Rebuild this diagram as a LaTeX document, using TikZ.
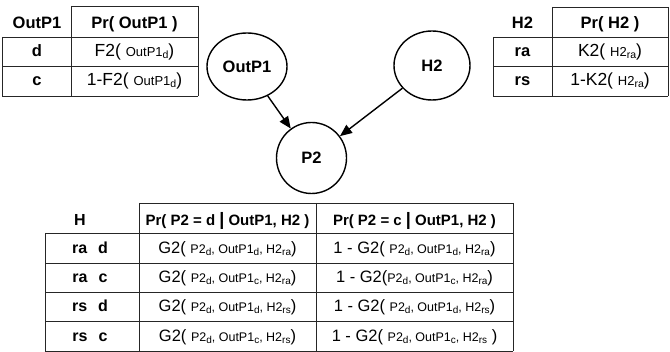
\documentclass[tikz,border=0pt]{standalone}
\usepackage{fontspec}
\setmainfont{Liberation Sans}
\usetikzlibrary{arrows.meta,shapes.geometric}

\newcommand{\hdrf}{\fontsize{15}{15}\selectfont\bfseries}
\newcommand{\bighdrf}{\fontsize{16.5}{16.5}\selectfont\bfseries}
\newcommand{\rowf}{\fontsize{16}{16}\selectfont\bfseries}
\newcommand{\fnmf}{\fontsize{16.5}{16.5}\selectfont}
\newcommand{\topfnf}{\fontsize{17.5}{17.5}\selectfont}
\newcommand{\argv}[2]{{\fontsize{12.5}{12.5}\selectfont #1\raisebox{-1.5pt}{\fontsize{10}{10}\selectfont #2}}}
\newcommand{\targv}[2]{{\fontsize{13}{13}\selectfont #1\raisebox{-1.5pt}{\fontsize{10.5}{10.5}\selectfont #2}}}
\newcommand{\sbar}{{\fontsize{18}{18}\selectfont\bfseries |}}

\begin{document}
\begin{tikzpicture}[x=1pt,y=-1pt,
  tline/.style={line width=0.9pt, draw=black!85},
  txt/.style={inner sep=0pt, anchor=base},
  hd/.style={txt, font=\hdrf},
  thd/.style={txt, font=\bighdrf},
  rowl/.style={txt, font=\rowf},
  cell/.style={txt, font=\fnmf},
  tcell/.style={txt, font=\topfnf},
  bnode/.style={ellipse, draw, line width=1.4pt, inner sep=0pt, font=\bighdrf},
  arr/.style={line width=1.4pt, -{Triangle[length=12pt,width=10pt]}}]
\useasboundingbox (0,0) rectangle (670,352);

% ---------- Table 1 ----------
\draw[tline] (71,6) -- (198,6);
\draw[tline] (2,37) -- (198,37);
\draw[tline] (2,66) -- (198,66);
\draw[tline] (2,96) -- (198,96);
\draw[tline] (71,6) -- (71,96);
\draw[tline] (198,6) -- (198,96);
\draw[tline] (2,37) -- (2,96);
\node[thd] (t1h1) at (37,29) {OutP1};
\node[thd] (t1h2) at (134.5,29) {Pr( OutP1 )};
\node[thd] (t1r1) at (37,57) {d};
\node[thd] (t1r2) at (37,86) {c};
\node[tcell] (t1v1) at (134.5,57) {F2( \targv{OutP1}{d})};
\node[tcell] (t1v2) at (134.5,86) {1-F2( \targv{OutP1}{d})};

% ---------- Table 2 ----------
\draw[tline] (552,7) -- (668,7);
\draw[tline] (493,37) -- (668,37);
\draw[tline] (493,66) -- (668,66);
\draw[tline] (493,96) -- (668,96);
\draw[tline] (552,7) -- (552,96);
\draw[tline] (668,7) -- (668,96);
\draw[tline] (493,37) -- (493,96);
\node[thd] (t2h1) at (522.5,29) {H2};
\node[thd] (t2h2) at (610,29) {Pr( H2 )};
\node[thd] (t2r1) at (522.5,57) {ra};
\node[thd] (t2r2) at (522.5,86) {rs};
\node[tcell] (t2v1) at (610,57) {K2( \targv{H2}{ra})};
\node[tcell] (t2v2) at (610,86) {1-K2( \targv{H2}{ra})};

% ---------- Graph ----------
\node[bnode, minimum width=80pt, minimum height=67pt] (outp1) at (247,66.5) {OutP1};
\node[bnode, minimum width=76pt, minimum height=69pt] (h2) at (432,65.5) {H2};
\node[bnode, minimum width=70pt, minimum height=71pt] (p2) at (311.5,158) {P2};
\draw[arr] (outp1) -- (p2);
\draw[arr] (h2) -- (p2);

% ---------- Table 3 ----------
\draw[tline] (139,203) -- (513,203);
\draw[tline] (45,233) -- (513,233);
\draw[tline] (45,263) -- (513,263);
\draw[tline] (45,292) -- (513,292);
\draw[tline] (45,321) -- (513,321);
\draw[tline] (45,351) -- (513,351);
\draw[tline] (139,203) -- (139,351);
\draw[tline] (316,203) -- (316,351);
\draw[tline] (513,203) -- (513,351);
\draw[tline] (45,233) -- (45,351);
\node[rowl] (t3h1) at (80,226) {H};
\node[hd] (t3h2) at (227.5,226) {Pr( P2 = d \sbar\ OutP1, H2 )};
\node[hd] (t3h3) at (414.5,226) {Pr( P2 = c \sbar\ OutP1, H2 )};
\node[rowl] (t3r1) at (90,254) {ra\hspace{11pt}d};
\node[rowl] (t3r2) at (90,283) {ra\hspace{11pt}c};
\node[rowl] (t3r3) at (90,312) {rs\hspace{11pt}d};
\node[rowl] (t3r4) at (90,342) {rs\hspace{11pt}c};
\node[cell] (g1) at (227.5,254) {G2( \argv{P2}{d}\argv{, OutP1}{d}\argv{, H2}{ra})};
\node[cell] (g2) at (227.5,283) {G2( \argv{P2}{d}\argv{, OutP1}{c}\argv{, H2}{ra})};
\node[cell] (g3) at (227.5,312) {G2( \argv{P2}{d}\argv{, OutP1}{d}\argv{, H2}{rs})};
\node[cell] (g4) at (227.5,342) {G2( \argv{P2}{d}\argv{, OutP1}{c}\argv{, H2}{rs})};
\node[cell] (c1) at (414.5,254) {1 - G2( \argv{P2}{d}\argv{, OutP1}{d}\argv{, H2}{ra})};
\node[cell] (c2) at (414.5,283) {1 - G2(\argv{P2}{d}\argv{, OutP1}{c}\argv{, H2}{ra})};
\node[cell] (c3) at (414.5,312) {1 - G2( \argv{P2}{d}\argv{, OutP1}{d}\argv{, H2}{rs})};
\node[cell] (c4) at (414.5,342) {1 - G2( \argv{P2}{d}\argv{, OutP1}{c}\argv{, H2}{rs} )};
\end{tikzpicture}
\end{document}
